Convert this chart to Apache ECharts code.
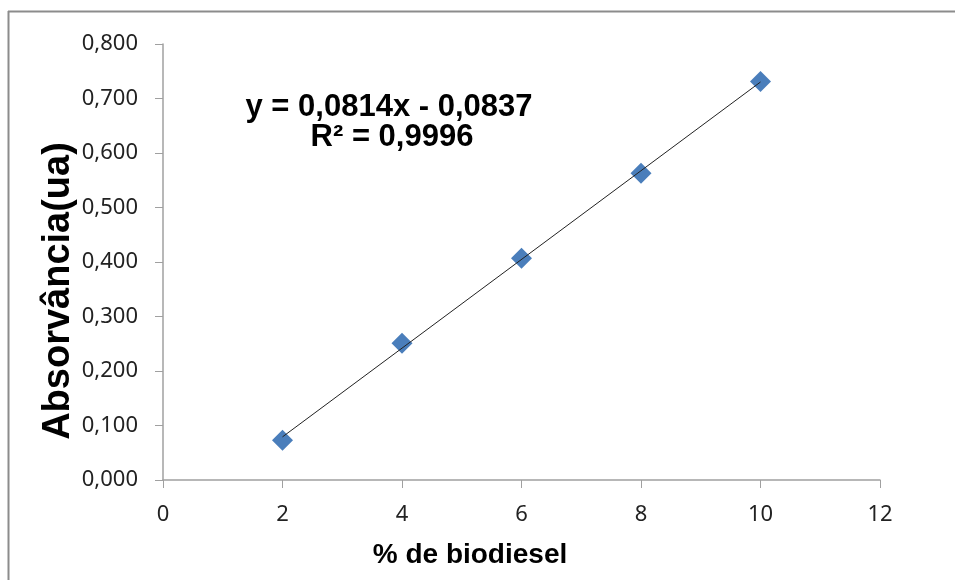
<!DOCTYPE html>
<html>
<head>
<meta charset="utf-8">
<script src="https://cdn.jsdelivr.net/npm/echarts@6/dist/echarts.min.js"></script>
<style>
html, body { margin: 0; padding: 0; background: #fff; }
#chart { width: 955px; height: 580px; }
</style>
</head>
<body>
<div id="chart"></div>
<script>
// % de biodiesel vs absorbância
const biodiesel = [2, 4, 6, 8, 10];
const absorbancia = [0.073, 0.251, 0.407, 0.563, 0.731];
// linha de tendência (Excel)
const slope = 0.0814;
const intercept = -0.0837;
const trendX = [2, 10];
const equationText = 'y = 0,0814x - 0,0837';
const r2Text = 'R² = 0,9996';
const xTitle = '% de biodiesel';
const yTitle = 'Absorvância(ua)';

const fmt = v => v.toFixed(3).replace('.', ',');
const tickFont = '"Noto Sans", sans-serif';
const boldFont = '"Liberation Sans", Arial, sans-serif';

const chart = echarts.init(document.getElementById('chart'));
chart.setOption({
    backgroundColor: '#fff',
    animation: false,
    grid: {left: 163, top: 44, right: 75, bottom: 100},
    graphic: [
        {
            type: 'line',
            shape: {x1: 8.5, y1: 11, x2: 8.5, y2: 600},
            style: {stroke: '#8c8c8c', lineWidth: 2}
        },
        {
            type: 'line',
            shape: {x1: 8, y1: 11.5, x2: 960, y2: 11.5},
            style: {stroke: '#8c8c8c', lineWidth: 2}
        },
        {
            type: 'text',
            style: {text: equationText, x: 389, y: 107, textAlign: 'center', textVerticalAlign: 'middle',
                font: 'bold 31px ' + boldFont, fill: '#000'}
        },
        {
            type: 'text',
            style: {text: r2Text, x: 392, y: 137, textAlign: 'center', textVerticalAlign: 'middle',
                font: 'bold 31px ' + boldFont, fill: '#000'}
        },
        {
            type: 'text',
            x: 470, y: 555,
            style: {text: xTitle, x: 0, y: 0, textAlign: 'center', textVerticalAlign: 'middle',
                font: 'bold 28px ' + boldFont, fill: '#000'}
        },
        {
            type: 'text',
            x: 59, y: 291, rotation: Math.PI / 2,
            style: {text: yTitle, x: 0, y: 0, textAlign: 'center', textVerticalAlign: 'middle',
                font: 'bold 38px ' + boldFont, fill: '#000'}
        }
    ],
    xAxis: {
        type: 'value', min: 0, max: 12, interval: 2,
        axisLine: {show: true, lineStyle: {color: '#a0a0a0', width: 1.5}},
        axisTick: {show: true, length: 8, lineStyle: {color: '#a0a0a0'}},
        axisLabel: {fontSize: 22, color: '#222', margin: 24, fontFamily: tickFont},
        splitLine: {show: false}
    },
    yAxis: {
        type: 'value', min: 0, max: 0.8, interval: 0.1,
        axisLine: {show: true, lineStyle: {color: '#a0a0a0', width: 1.5}},
        axisTick: {show: true, length: 8, lineStyle: {color: '#a0a0a0'}},
        axisLabel: {fontSize: 22, color: '#222', margin: 25, fontFamily: tickFont, formatter: fmt},
        splitLine: {show: false}
    },
    series: [
        {
            type: 'line',
            data: trendX.map(x => [x, slope * x + intercept]),
            symbol: 'none',
            lineStyle: {color: '#222', width: 1},
            z: 3
        },
        {
            type: 'scatter',
            data: biodiesel.map((x, i) => [x, absorbancia[i]]),
            symbol: 'diamond',
            symbolSize: 21,
            itemStyle: {color: '#4a7ebb', opacity: 1},
            z: 2
        }
    ]
});
</script>
</body>
</html>
